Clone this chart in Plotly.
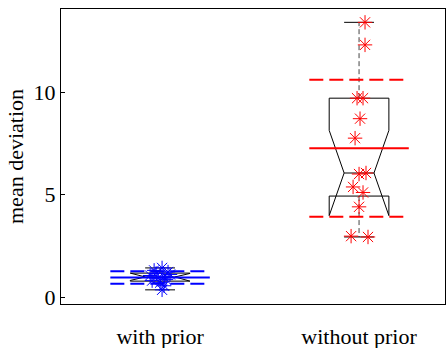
import numpy as np
import plotly.graph_objects as go

# ---- data ----
categories = ["with prior", "without prior"]
with_prior = [1.42, 1.30, 1.22, 1.15, 1.10, 1.05, 0.98, 0.92, 0.85, 0.80, 0.70, 0.55, 0.35]
with_prior_jitter = [0.01, -0.03, 0.04, -0.02, 0.05, -0.05, 0.02, -0.01, 0.03, -0.04, 0.0, 0.02, 0.01]
without_prior = [13.4, 12.3, 9.7, 9.7, 8.7, 7.75, 6.05, 6.0, 5.37, 5.1, 4.4, 2.97, 2.93]
without_prior_jitter = [0.03, 0.03, -0.01, 0.02, 0.005, -0.02, 0.035, 0.0, -0.03, 0.02, 0.0, -0.04, 0.045]
series = [with_prior, without_prior]
jitters = [with_prior_jitter, without_prior_jitter]
colors = ["#0000ff", "#ff0000"]
y_ticks = [0, 5, 10]

FONT = "Liberation Serif, Times New Roman, serif"
HW = 0.15      # box half width
MW = 0.25      # mean/std line half width


def prctile(v, p):
    s = np.sort(np.asarray(v, float))
    n = len(s)
    pos = p / 100 * n + 0.5
    if pos <= 1:
        return s[0]
    if pos >= n:
        return s[-1]
    i = int(np.floor(pos))
    f = pos - i
    return s[i - 1] + f * (s[i] - s[i - 1])


fig = go.Figure()
for k, vals in enumerate(series):
    c = k + 1
    v = np.asarray(vals, float)
    med = prctile(v, 50)
    q1 = prctile(v, 25)
    q3 = prctile(v, 75)
    iqr = q3 - q1
    nlo = med - 1.57 * iqr / np.sqrt(len(v))
    nhi = med + 1.57 * iqr / np.sqrt(len(v))
    wup = v[v <= q3 + 1.5 * iqr].max()
    wlo = v[v >= q1 - 1.5 * iqr].min()
    L, R = c - HW, c + HW
    nL, nR = c - HW / 2, c + HW / 2
    # whiskers (dashed)
    for a, b in [(q3, wup), (q1, wlo)]:
        fig.add_trace(go.Scatter(x=[c, c], y=[a, b], mode="lines",
                                 line=dict(color="#444444", width=1, dash="5px,3px"),
                                 hoverinfo="skip", showlegend=False))
    # caps
    for w in [wup, wlo]:
        fig.add_trace(go.Scatter(x=[nL, nR], y=[w, w], mode="lines",
                                 line=dict(color="black", width=1),
                                 hoverinfo="skip", showlegend=False))
    # notched box
    bx = [L, L, nL, L, L, R, R, nR, R, R, L]
    by = [q1, nlo, med, nhi, q3, q3, nhi, med, nlo, q1, q1]
    fig.add_trace(go.Scatter(x=bx, y=by, mode="lines",
                             line=dict(color="black", width=1),
                             hoverinfo="skip", showlegend=False))
    fig.add_trace(go.Scatter(x=[nL, nR], y=[med, med], mode="lines",
                             line=dict(color="black", width=1),
                             hoverinfo="skip", showlegend=False))
    # mean and mean +/- std
    m = v.mean()
    sd = v.std(ddof=1)
    fig.add_trace(go.Scatter(x=[c - MW, c + MW], y=[m, m], mode="lines",
                             line=dict(color=colors[k], width=2),
                             hoverinfo="skip", showlegend=False))
    for yy in [m + sd, m - sd]:
        fig.add_trace(go.Scatter(x=[c - MW, c + MW], y=[yy, yy], mode="lines",
                                 line=dict(color=colors[k], width=2, dash="14px,6px"),
                                 hoverinfo="skip", showlegend=False))
    # points
    fig.add_trace(go.Scatter(x=[c + j for j in jitters[k]], y=vals, mode="markers",
                             marker=dict(symbol="asterisk-open", size=12, color=colors[k],
                                         line=dict(color=colors[k], width=1)),
                             showlegend=False))

fig.update_layout(
    width=446, height=348,
    margin=dict(l=61, r=1, t=9, b=44),
    plot_bgcolor="white", paper_bgcolor="white",
    font=dict(family=FONT, size=22, color="black"),
    showlegend=False,
)
fig.update_xaxes(range=[0.502, 2.432], tickvals=[1, 2], ticktext=categories,
                 showgrid=False, zeroline=False, showline=True, mirror=True,
                 linecolor="black", linewidth=1, ticks="", ticklabelstandoff=13,
                 automargin=False,
                 tickfont=dict(family=FONT, size=22))
fig.update_yaxes(range=[-0.34, 14.05], tickvals=y_ticks,
                 showgrid=False, zeroline=False, showline=True, mirror=True,
                 linecolor="black", linewidth=1, ticks="inside", ticklen=4,
                 tickcolor="black", automargin=False,
                 tickfont=dict(family=FONT, size=22),
                 title=dict(text="mean deviation", standoff=3,
                            font=dict(family=FONT, size=22)))

fig.write_html("out.html", config={"displayModeBar": False},
               post_script="document.body.style.margin='0';document.body.style.overflow='hidden';")
